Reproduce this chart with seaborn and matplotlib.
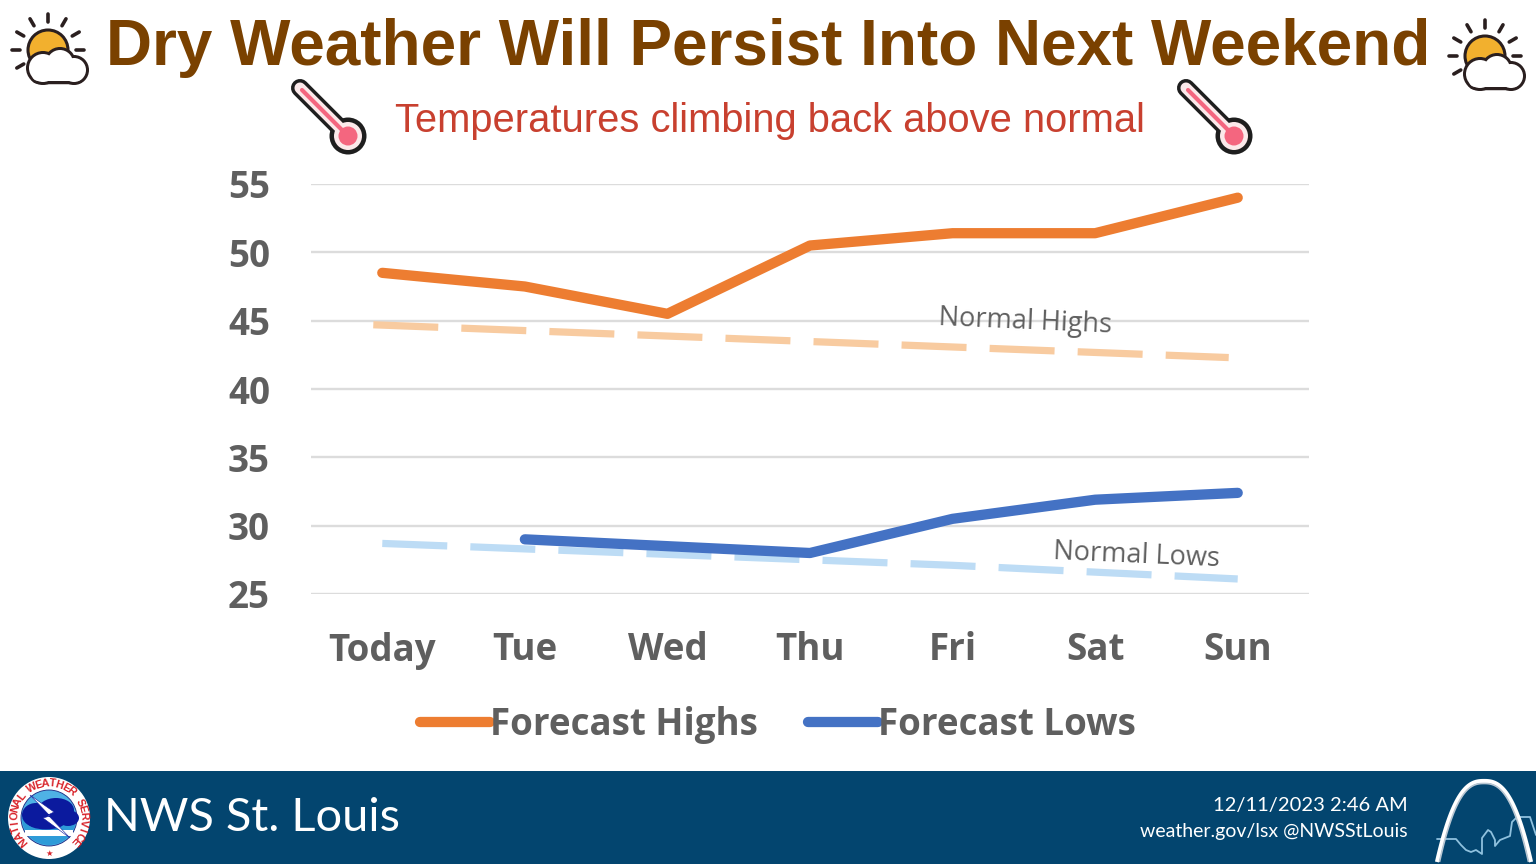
import numpy as np
import pandas as pd
import matplotlib
matplotlib.use("Agg")
import matplotlib.pyplot as plt
import seaborn as sns
from matplotlib.patches import Circle, Ellipse, Rectangle, Wedge, Polygon, FancyBboxPatch
from matplotlib.lines import Line2D
from matplotlib.transforms import ScaledTranslation

days = ["Today", "Tue", "Wed", "Thu", "Fri", "Sat", "Sun"]
forecast_highs = [48.5, 47.5, 45.5, 50.5, 51.4, 51.4, 54.0]
forecast_lows = [np.nan, 29.0, 28.5, 28.0, 30.5, 31.9, 32.4]
normal_highs = [44.7, 44.3, 43.9, 43.5, 43.1, 42.7, 42.3]
normal_lows = [28.7, 28.3, 27.9, 27.5, 27.1, 26.6, 26.1]
y_ticks = [25, 30, 35, 40, 45, 50, 55]

ORANGE = "#ED7D31"
BLUE = "#4472C4"
N_HIGH = "#F8CBA0"
N_LOW = "#BDDCF5"
GREY = "#5F5F5F"
W, H = 1536, 864

sns.set_theme(style="white")
plt.rcParams["font.family"] = ["Open Sans", "DejaVu Sans"]

fig = plt.figure(figsize=(15.36, 8.64), dpi=100, facecolor="white")
ax = fig.add_axes([311 / W, 1 - 594 / H, 998 / W, 410 / H])

df = pd.DataFrame({"idx": np.arange(len(days)), "fh": forecast_highs, "fl": forecast_lows,
                   "nh": normal_highs, "nl": normal_lows})
dash = (0, (9.0, 3.2))
sns.lineplot(data=df, x="idx", y="nh", ax=ax, color=N_HIGH, lw=5.2, linestyle=dash)
nh_line = ax.lines[-1]
nh_line.set_transform(ax.transData + ScaledTranslation(-9 / 100, 0, fig.dpi_scale_trans))
sns.lineplot(data=df, x="idx", y="nl", ax=ax, color=N_LOW, lw=5.2, linestyle=dash)
sns.lineplot(data=df, x="idx", y="fh", ax=ax, color=ORANGE, lw=7.4,
             solid_capstyle="round", solid_joinstyle="round")
sns.lineplot(data=df.dropna(), x="idx", y="fl", ax=ax, color=BLUE, lw=7.4,
             solid_capstyle="round", solid_joinstyle="round")

ax.set_xlim(-0.5, 6.5)
ax.set_ylim(25, 55)
ax.set_xticks(np.arange(len(days)))
ax.set_xticklabels(days)
ax.set_yticks(y_ticks)
ax.set_xlabel("")
ax.set_ylabel("")
ax.yaxis.grid(True, color="#DCDCDC", lw=1.7)
ax.xaxis.grid(False)
ax.set_axisbelow(True)
for s in ax.spines.values():
    s.set_visible(False)
ax.tick_params(axis="both", length=0, labelcolor=GREY)
ax.tick_params(axis="x", pad=27)
ax.tick_params(axis="y", pad=29.5)
for t in ax.get_xticklabels() + ax.get_yticklabels():
    t.set_fontsize(26.5)
    t.set_fontweight("bold")
    t.set_color(GREY)

handles = [Line2D([], [], color=ORANGE, lw=7.4, solid_capstyle="round"),
           Line2D([], [], color=BLUE, lw=7.4, solid_capstyle="round")]
fig.legend(handles, ["Forecast Highs", "Forecast Lows"], ncol=2, frameon=False,
           loc="center", bbox_to_anchor=(778 / W, 1 - 725 / H),
           prop={"family": "Open Sans", "weight": "bold", "size": 26.5},
           labelcolor=GREY, handlelength=1.9, handletextpad=0.0, columnspacing=1.36)

# overlay in pixel coordinates for slide furniture
ov = fig.add_axes([0, 0, 1, 1], facecolor="none")
ov.set_xlim(0, W)
ov.set_ylim(H, 0)
ov.axis("off")

ov.text(768, 48.5, "Dry Weather Will Persist Into Next Weekend", ha="center", va="center",
        family="Liberation Sans", weight="bold", fontsize=46, color="#7A4100")
ov.text(770, 121, "Temperatures climbing back above normal", ha="center", va="center",
        family="Liberation Sans", fontsize=28.7, color="#C8402F")
ov.text(1025, 322, "Normal Highs", ha="center", va="center", fontsize=19.5, color=GREY, rotation=-2.5)
ov.text(1137, 556, "Normal Lows", ha="center", va="center", fontsize=19.5, color=GREY, rotation=-2.5)

INK = "#2A1F1F"


def sun_cloud(dx, dy):
    cx, cy = 48 + dx, 50 + dy
    ov.add_patch(Circle((cx, cy), 20, fc="#F2B02E", ec=INK, lw=2.2, zorder=3))
    for ang in [-180, -150, -120, -90, -60, -30, 0, 150]:
        a = np.deg2rad(ang)
        r0, r1 = 28, 36
        ov.plot([cx + r0 * np.cos(a), cx + r1 * np.cos(a)],
                [cy + r0 * np.sin(a), cy + r1 * np.sin(a)],
                color=INK, lw=2.6, solid_capstyle="round", zorder=3)
    parts = [((43, 68), 14), ((60, 63), 13), ((74, 70), 12)]
    for (x, y), r in parts:
        ov.add_patch(Circle((x + dx, y + dy), r + 3, fc=INK, ec="none", zorder=4))
    ov.add_patch(FancyBboxPatch((32 + dx, 66 + dy), 51, 16, boxstyle="round,pad=0,rounding_size=8",
                                fc=INK, ec=INK, lw=3.2, zorder=4))
    for (x, y), r in parts:
        ov.add_patch(Circle((x + dx, y + dy), r, fc="white", ec="none", zorder=5))
    ov.add_patch(FancyBboxPatch((32 + dx, 66 + dy), 51, 15, boxstyle="round,pad=0,rounding_size=7",
                                fc="white", ec="none", zorder=5))


def thermometer(dx):
    x0, y0, x1, y1 = 300 + dx, 88, 347 + dx, 135
    ov.plot([x0, x1], [y0, y1], color="#1E1E1E", lw=13, solid_capstyle="round", zorder=3)
    ov.add_patch(Circle((x1 + 1, y1 + 1), 18.5, fc="#1E1E1E", ec="none", zorder=3))
    ov.plot([x0, x1], [y0, y1], color="#FBE9EA", lw=8, solid_capstyle="round", zorder=4)
    ov.add_patch(Circle((x1 + 1, y1 + 1), 14, fc="#FBE9EA", ec="none", zorder=4))
    ov.plot([x0 + 2, x1], [y0 + 2, y1], color="#F4667F", lw=3, zorder=5)
    ov.add_patch(Circle((x1 + 1, y1 + 1), 9.5, fc="#F4667F", ec="none", zorder=5))


sun_cloud(0, 0)
sun_cloud(1437, 6)
thermometer(0)
thermometer(886)

# footer band
FOOT = "#03456F"
ov.add_patch(Rectangle((0, 771), W, 93, fc=FOOT, ec="none", zorder=1))
ov.text(104, 818, "NWS St. Louis", ha="left", va="center", family="Lato", fontsize=33.8,
        color="white", zorder=2)
ov.text(1408, 805, "12/11/2023 2:46 AM", ha="right", va="center", family="Lato", fontsize=14.5,
        color="white", zorder=2)
ov.text(1408, 832, "weather.gov/lsx @NWSStLouis", ha="right", va="center", family="Lato",
        fontsize=14, color="white", zorder=2)

# NWS seal
cx, cy = 49, 818
ov.add_patch(Circle((cx, cy), 41, fc="white", ec="none", zorder=2))
ov.add_patch(Circle((cx, cy), 28, fc="#4FB2E5", ec="#1A237E", lw=0.6, zorder=3))
ov.add_patch(Wedge((cx, cy), 27, 0, 180, fc="#2E9BD8", ec="none", zorder=3))
ov.add_patch(Rectangle((cx - 24, cy + 12), 48, 6, fc="white", ec="none", zorder=4))
for ex, ey, ew, eh in [(36, 815, 28, 24), (56, 810, 36, 24), (68, 818, 22, 16), (46, 822, 38, 15)]:
    ov.add_patch(Ellipse((ex, ey), ew, eh, fc="#0B1A9E", ec="none", zorder=5))
ov.add_patch(Polygon([(30, 795), (54, 812), (48, 815), (70, 838), (43, 818), (50, 816)],
                     fc="white", ec="#0B1A9E", lw=0.4, zorder=6))
ring = "NATIONAL WEATHER SERVICE"
angles = np.linspace(-132, 132, len(ring))
for ch, a in zip(ring, angles):
    rad = np.deg2rad(a)
    ov.text(cx + 34.5 * np.sin(rad), cy - 34.5 * np.cos(rad), ch, ha="center", va="center",
            rotation=-a, family="Liberation Sans", weight="bold", fontsize=7.8, color="#D8232A", zorder=7)
ov.text(cx, cy + 35, "★", ha="center", va="center", family="DejaVu Sans", fontsize=6, color="#D8232A", zorder=7)

# Arch and skyline
sky_x = [1437, 1456, 1461, 1466, 1471, 1476, 1482, 1482, 1488, 1491, 1495, 1495, 1500, 1510, 1512, 1518, 1520, 1530, 1536]
sky_y = [839, 839, 845, 850, 852, 850, 854, 838, 830, 832, 840, 846, 840, 836, 822, 816, 817, 817, 835]
ov.plot(sky_x, sky_y, color="#8FC1DE", lw=1.3, zorder=2)
t = np.linspace(-1, 1, 80)
for off, col, lw in [(0, "#FFFFFF", 3.0), (2.5, "#B9C7D3", 1.2)]:
    ax_x = 1484 + (47 - off) * np.sign(t) * np.abs(t) ** 0.9
    ax_y = 862 - (81 - off) * (1 - np.abs(t) ** 2.3)
    ov.plot(ax_x, ax_y, color=col, lw=lw, zorder=3, solid_capstyle="butt")

fig.savefig("out.png", dpi=100, facecolor="white")
